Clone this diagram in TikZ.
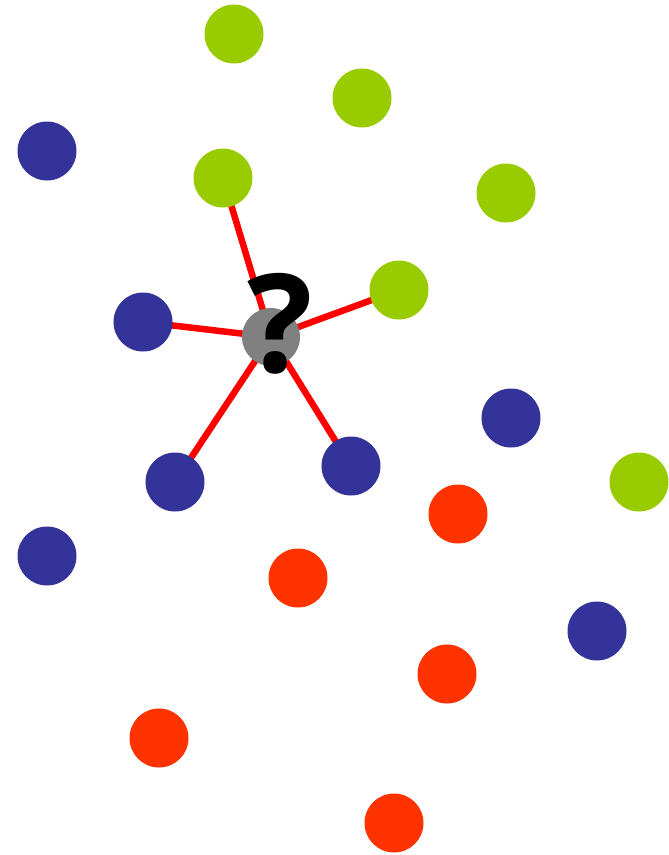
\documentclass[tikz,border=0pt]{standalone}
\usepackage{fontspec}
\newfontfamily\qfont{Open Sans}
\usetikzlibrary{backgrounds}
\definecolor{dotgreen}{HTML}{99CC00}
\definecolor{dotblue}{HTML}{333399}
\definecolor{dotred}{HTML}{FF3300}
\definecolor{linkred}{HTML}{FF0000}
\tikzset{
    dot/.style={circle, minimum size=59pt, inner sep=0pt},
    greendot/.style={dot, fill=dotgreen},
    bluedot/.style={dot, fill=dotblue},
    reddot/.style={dot, fill=dotred},
    querydot/.style={dot, fill=black!50, minimum size=58pt},
    link/.style={linkred, line width=6.5pt},
}

\begin{document}
\begin{tikzpicture}[x=1pt,y=-1pt]
\useasboundingbox (0,0) rectangle (669,855);
% class A
\node[greendot] (g1) at (234,34) {};
\node[greendot] (g2) at (362,98) {};
\node[greendot] (g3) at (223,178) {};
\node[greendot] (g4) at (506,193) {};
\node[greendot] (g5) at (399,290) {};
\node[greendot] (g6) at (639,482) {};
% class B
\node[bluedot] (b1) at (47,151) {};
\node[bluedot] (b2) at (143,322) {};
\node[bluedot] (b3) at (511,418) {};
\node[bluedot] (b4) at (351,466) {};
\node[bluedot] (b5) at (175,482) {};
\node[bluedot] (b6) at (47,556) {};
\node[bluedot] (b7) at (597,631) {};
% class C
\node[reddot] (r1) at (458,514) {};
\node[reddot] (r2) at (298,578) {};
\node[reddot] (r3) at (447,674) {};
\node[reddot] (r4) at (159,738) {};
\node[reddot] (r5) at (394,823) {};
% unknown point
\node[querydot] (q) at (271,337) {};
\node[inner sep=0pt, font=\qfont\bfseries\fontsize{137}{137}\selectfont] (qm) at (280,324) {?};

\begin{scope}[on background layer]
\foreach \nb in {g3,g5,b2,b4,b5}
  \draw[link] (q.center) -- (\nb.center);
\end{scope}
\end{tikzpicture}
\end{document}
